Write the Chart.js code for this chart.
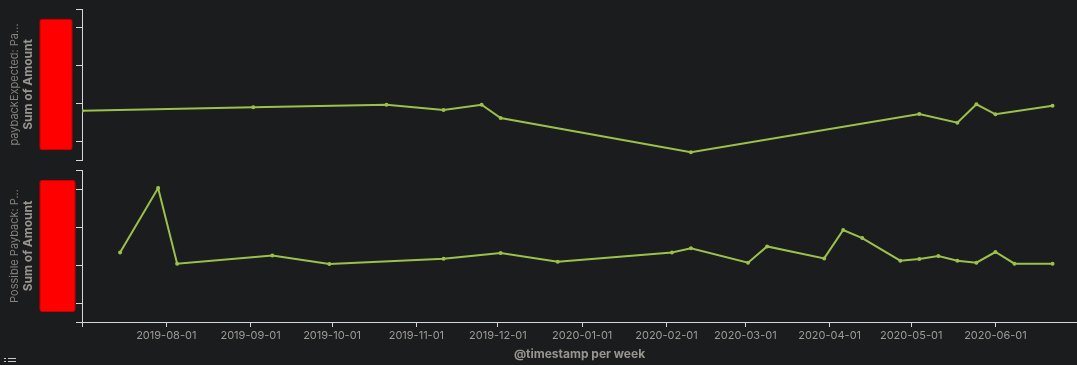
<!DOCTYPE html>
<html><head><meta charset="utf-8">
<script src="https://cdn.jsdelivr.net/npm/chart.js@4.4.1/dist/chart.umd.min.js"></script>
<style>
html,body{margin:0;padding:0;background:#1b1c1e;}
#wrap{position:relative;width:1077px;height:365px;overflow:hidden;background:#1b1c1e;}
canvas{position:absolute;left:0;top:0;}
.ic{position:absolute;background:#c9c9c9;height:1px;}
</style></head><body>
<div id="wrap">
<canvas id="c1" width="1077" height="365"></canvas>
<canvas id="c2" width="1077" height="365"></canvas>
<div class="ic" style="left:4px;top:358px;width:2px"></div>
<div class="ic" style="left:8px;top:358px;width:8px"></div>
<div class="ic" style="left:4px;top:361px;width:2px"></div>
<div class="ic" style="left:8px;top:361px;width:8px"></div>
</div>
<script>
// ---- data ----
const weeksTop = ['2019-07-01','2019-09-02','2019-10-21','2019-11-11','2019-11-25','2019-12-02','2020-02-10','2020-05-04','2020-05-18','2020-05-25','2020-06-01','2020-06-22'];
const valuesTop = [1806,1896,1965,1825,1965,1613,704,1719,1488,1976,1711,1938];
const weeksBottom = ['2019-07-15','2019-07-29','2019-08-05','2019-09-09','2019-09-30','2019-11-11','2019-12-02','2019-12-23','2020-02-03','2020-02-10','2020-03-02','2020-03-09','2020-03-30','2020-04-06','2020-04-13','2020-04-27','2020-05-04','2020-05-11','2020-05-18','2020-05-25','2020-06-01','2020-06-08','2020-06-22'];
const valuesBottom = [2331,4026,2034,2252,2026,2165,2315,2086,2331,2442,2060,2489,2173,2921,2710,2113,2158,2236,2113,2060,2342,2034,2034];
const xTickLabels = ['2019-08-01','2019-09-01','2019-10-01','2019-11-01','2019-12-01','2020-01-01','2020-02-01','2020-03-01','2020-04-01','2020-05-01','2020-06-01'];
const xRange = ['2019-07-01','2020-07-01'];
const yTickValues = [1000,2000,3000,4000];
const yRange = [500,4500];
const xTitle = '@timestamp per week';
const topSeriesName = 'paybackExpected: Pa...';
const bottomSeriesName = 'Possible Payback: P...';
const metricName = 'Sum of Amount';

// ---- styles ----
const lineColor = '#9cc14b';
const axisColor = '#d6d6d6';
const tickColor = '#9e9b95';
const titleColor = '#99958f';
const nameColor = '#85817b';

const toMs = s => { const [y,m,d] = s.split('-').map(Number); return Date.UTC(y, m-1, d); };
const pad2 = n => String(n).padStart(2,'0');
const fmt = v => { const d = new Date(v); return d.getUTCFullYear()+'-'+pad2(d.getUTCMonth()+1)+'-'+pad2(d.getUTCDate()); };

const panelDecor = {
  id: 'panelDecor',
  afterDraw(chart, args, opts) {
    const ctx = chart.ctx, y = chart.scales.y;
    const top = y.getPixelForValue(yTickValues[yTickValues.length-1]) - 8.5;
    const bot = y.getPixelForValue(yTickValues[0]) + 8.5;
    ctx.save();
    ctx.fillStyle = '#ff0000';
    ctx.beginPath();
    ctx.roundRect(40, top, opts.boxWidth, bot - top, 2);
    ctx.fill();
    ctx.strokeStyle = '#c80000'; ctx.lineWidth = 1;
    ctx.stroke();
    const cy = (chart.chartArea.top + chart.chartArea.bottom) / 2;
    ctx.translate(0, cy);
    ctx.rotate(-Math.PI/2);
    ctx.textAlign = 'center'; ctx.textBaseline = 'middle';
    ctx.font = '11px Inter'; ctx.fillStyle = nameColor;
    ctx.fillText(opts.name, 0, 15);
    ctx.font = 'bold 12px Inter'; ctx.fillStyle = titleColor;
    ctx.fillText(metricName, 0, 28);
    ctx.restore();
  }
};

function makeChart(id, weeks, values, isBottom, name, boxWidth) {
  return new Chart(document.getElementById(id), {
    type: 'line',
    data: { datasets: [{
      data: weeks.map((w,i) => ({x: toMs(w), y: values[i]})),
      borderColor: lineColor, backgroundColor: lineColor,
      borderWidth: 2, pointRadius: 2, pointBorderWidth: 0,
      pointBackgroundColor: lineColor, tension: 0, fill: false
    }]},
    options: {
      responsive: false, animation: false, devicePixelRatio: 1,
      events: [],
      layout: { autoPadding: false, padding: isBottom ? {top:170, bottom:0, left:0, right:0} : {top:9, bottom:205, left:0, right:0} },
      plugins: { legend: {display:false}, tooltip: {enabled:false}, panelDecor: {name: name, boxWidth: boxWidth} },
      scales: {
        x: {
          type: 'linear', display: isBottom,
          min: toMs(xRange[0]), max: toMs(xRange[1]),
          afterBuildTicks(s) { s.ticks = [toMs(xRange[0]), ...xTickLabels.map(toMs)].map(v => ({value: v})); },
          afterFit(s) { if (isBottom) s.height = 43; },
          ticks: { color: tickColor, font: {family:'Inter', size:11}, padding: 2, maxRotation: 0, autoSkip: false,
                   callback: v => xTickLabels.includes(fmt(v)) ? fmt(v) : '' },
          grid: { drawOnChartArea: false, drawTicks: true, tickLength: 5, color: axisColor },
          border: { display: true, color: axisColor, width: 1 },
          title: { display: true, text: xTitle, color: titleColor, font: {family:'Inter', size:12, weight:'bold'}, padding: {top:0, bottom:3} }
        },
        y: {
          min: yRange[0], max: yRange[1],
          afterBuildTicks(s) { s.ticks = [yRange[0], ...yTickValues, yRange[1]].map(v => ({value: v})); },
          afterFit(s) { s.width = 82; },
          ticks: { display: false },
          grid: { drawOnChartArea: false, drawTicks: true, tickLength: 6, color: axisColor },
          border: { display: true, color: axisColor, width: 1 }
        }
      }
    },
    plugins: [panelDecor]
  });
}

makeChart('c1', weeksTop, valuesTop, false, topSeriesName, 32);
makeChart('c2', weeksBottom, valuesBottom, true, bottomSeriesName, 35);
</script>
</body></html>
